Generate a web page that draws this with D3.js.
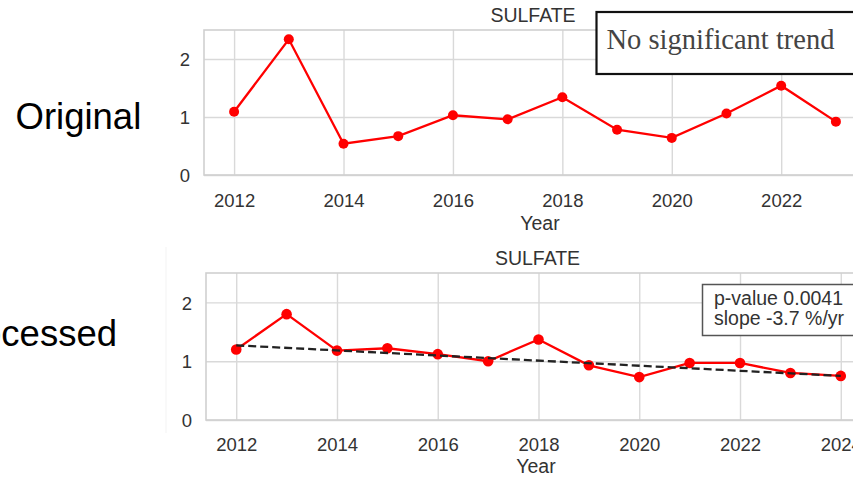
<!DOCTYPE html>
<html>
<head>
<meta charset="utf-8">
<script src="https://cdn.jsdelivr.net/npm/d3@7/dist/d3.min.js"></script>
<style>
  html, body { margin: 0; padding: 0; background: #fff; }
  svg { display: block; }
</style>
</head>
<body>
<svg id="chart" width="853" height="479"></svg>
<script>
// ---------- data ----------
const yearsOriginal = [2012, 2013, 2014, 2015, 2016, 2017, 2018, 2019, 2020, 2021, 2022, 2023];
const valuesOriginal = [1.09, 2.34, 0.54, 0.67, 1.03, 0.96, 1.34, 0.78, 0.64, 1.06, 1.54, 0.92];

const yearsProcessed = [2012, 2013, 2014, 2015, 2016, 2017, 2018, 2019, 2020, 2021, 2022, 2023, 2024];
const valuesProcessed = [1.20, 1.80, 1.18, 1.22, 1.12, 1.00, 1.37, 0.93, 0.73, 0.97, 0.97, 0.80, 0.75];

const trendYears = [2012, 2024];
const trendValues = [1.27, 0.75];

const xTicksOriginal = [2012, 2014, 2016, 2018, 2020, 2022];
const xTicksProcessed = [2012, 2014, 2016, 2018, 2020, 2022, 2024];
const yTicks = [0, 1, 2];

const chartTitle = "SULFATE";
const xLabel = "Year";
const rowLabels = ["Original", "Processed"];
const noteOriginal = "No significant trend";
const noteProcessed = ["p-value 0.0041", "slope -3.7 %/yr"];

// ---------- drawing ----------
const svg = d3.select("#chart");
const sans = "'Liberation Sans', Arial, Helvetica, sans-serif";
const serif = "'Liberation Serif', 'Times New Roman', serif";
const gridColor = "#d9d9d9";
const textColor = "#333";

function panel(cfg) {
  const x = d3.scaleLinear().domain(cfg.xDomain).range([cfg.left, cfg.right]);
  const y = d3.scaleLinear().domain([0, 2.5]).range([cfg.bottom, cfg.top]);
  const g = svg.append("g");

  // grid
  const xAxis = d3.axisBottom(x).tickValues(cfg.xTicks).tickFormat(d3.format("d"))
    .tickSize(-(cfg.bottom - cfg.top)).tickPadding(14);
  const gx = g.append("g").attr("transform", `translate(0,${cfg.bottom})`).call(xAxis);
  gx.select(".domain").remove();
  gx.selectAll(".tick line").attr("stroke", gridColor).attr("stroke-width", 1.4);
  gx.selectAll(".tick text").attr("fill", textColor)
    .style("font-family", sans).style("font-size", "18.5px")
    .attr("dy", null).attr("y", cfg.xTickBaseline);

  const yAxis = d3.axisLeft(y).tickValues(yTicks).tickFormat(d3.format("d"))
    .tickSize(-(cfg.right - cfg.left)).tickPadding(14);
  const gy = g.append("g").attr("transform", `translate(${cfg.left},0)`).call(yAxis);
  gy.select(".domain").remove();
  gy.selectAll(".tick line").attr("stroke", gridColor).attr("stroke-width", 1.4);
  gy.selectAll(".tick text").attr("fill", textColor)
    .style("font-family", sans).style("font-size", "18.5px")
    .attr("dy", "0.36em");

  // frame (spines)
  g.append("rect")
    .attr("x", cfg.left).attr("y", cfg.top)
    .attr("width", cfg.right - cfg.left).attr("height", cfg.bottom - cfg.top)
    .attr("fill", "none").attr("stroke", "#d0d0d0").attr("stroke-width", 1.6);

  // title and x label
  g.append("text").attr("x", cfg.titleX).attr("y", cfg.titleY)
    .attr("text-anchor", "middle").attr("fill", textColor)
    .style("font-family", sans).style("font-size", "19.5px").text(chartTitle);
  g.append("text").attr("x", cfg.xLabelX).attr("y", cfg.xLabelY)
    .attr("text-anchor", "middle").attr("fill", textColor)
    .style("font-family", sans).style("font-size", "19.5px").text(xLabel);

  return { g, x, y };
}

// ---- Top panel (Original)
const p1 = panel({
  left: 204, right: 866, top: 30, bottom: 175,
  xDomain: [2011.45, 2023.55], xTicks: xTicksOriginal,
  xTickBaseline: 32, titleX: 533, titleY: 21.5, xLabelX: 540, xLabelY: 230
});

const line1 = d3.line().x((d, i) => p1.x(yearsOriginal[i])).y(d => p1.y(d));
p1.g.append("path").datum(valuesOriginal)
  .attr("d", line1).attr("fill", "none").attr("stroke", "#ff0000").attr("stroke-width", 2.3);
p1.g.selectAll("circle.m").data(valuesOriginal).enter().append("circle")
  .attr("cx", (d, i) => p1.x(yearsOriginal[i])).attr("cy", d => p1.y(d))
  .attr("r", 5).attr("fill", "#ff0000");

// note box
p1.g.append("rect").attr("x", 596.5).attr("y", 12).attr("width", 270).attr("height", 62)
  .attr("fill", "#fff").attr("stroke", "#111").attr("stroke-width", 2.2);
p1.g.append("text").attr("x", 606.5).attr("y", 48.5)
  .attr("fill", "#444").style("font-family", serif).style("font-size", "28.5px")
  .text(noteOriginal);

// ---- Bottom panel (Processed)
const p2 = panel({
  left: 206, right: 871, top: 273, bottom: 420,
  xDomain: [2011.4, 2024.6], xTicks: xTicksProcessed,
  xTickBaseline: 31, titleX: 537.5, titleY: 265, xLabelX: 536, xLabelY: 473
});

const line2 = d3.line().x((d, i) => p2.x(yearsProcessed[i])).y(d => p2.y(d));
p2.g.append("path").datum(valuesProcessed)
  .attr("d", line2).attr("fill", "none").attr("stroke", "#ff0000").attr("stroke-width", 2.3);
p2.g.selectAll("circle.m").data(valuesProcessed).enter().append("circle")
  .attr("cx", (d, i) => p2.x(yearsProcessed[i])).attr("cy", d => p2.y(d))
  .attr("r", 5.3).attr("fill", "#ff0000");

const trendLine = d3.line().x((d, i) => p2.x(trendYears[i])).y(d => p2.y(d));
p2.g.append("path").datum(trendValues)
  .attr("d", trendLine).attr("fill", "none").attr("stroke", "#222")
  .attr("stroke-width", 2.3).attr("stroke-dasharray", "8,4");

// stats box
p2.g.append("rect").attr("x", 702.5).attr("y", 284.5).attr("width", 170).attr("height", 51)
  .attr("fill", "#fff").attr("stroke", "#555").attr("stroke-width", 1.5);
p2.g.selectAll("text.note").data(noteProcessed).enter().append("text")
  .attr("x", 714).attr("y", (d, i) => 304.5 + i * 20.5)
  .attr("fill", textColor).style("font-family", sans).style("font-size", "19.5px")
  .text(d => d);

// faint crop edge of the lower image
svg.append("line").attr("x1", 166).attr("x2", 166).attr("y1", 247).attr("y2", 433)
  .attr("stroke", "#f3f3f3").attr("stroke-width", 1);

// row labels
svg.append("text").attr("x", 15.5).attr("y", 128.5)
  .attr("fill", "#000").style("font-family", sans).style("font-size", "36.5px")
  .text(rowLabels[0]);
svg.append("text").attr("x", 117).attr("y", 346).attr("text-anchor", "end")
  .attr("fill", "#000").style("font-family", sans).style("font-size", "36.5px")
  .text(rowLabels[1]);
</script>
</body>
</html>
